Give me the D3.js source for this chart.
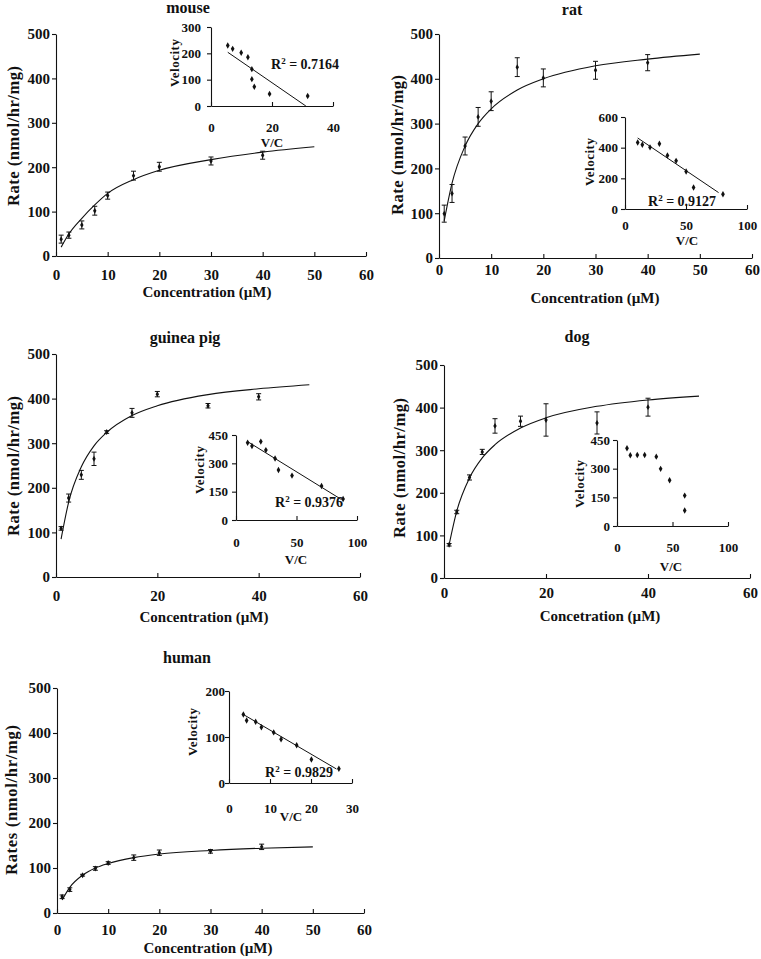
<!DOCTYPE html>
<html><head><meta charset="utf-8">
<script src="https://cdn.jsdelivr.net/npm/d3@7"></script>
<style>
body{margin:0;background:#fff;}
svg{display:block;font-family:"Liberation Serif","Times New Roman",serif;font-weight:bold;}
</style></head><body>
<svg id="chart" width="761" height="959"></svg>
<script>
// ---------- DATA ----------
const concentration = [1, 2.5, 5, 7.5, 10, 15, 20, 30, 40];
const fitConcentration = [1, 2.5, 5, 7.5, 10, 15, 20, 30, 40, 50];
const rateTicks = [0, 100, 200, 300, 400, 500];

const mouseRate = [38, 47, 70, 102, 136, 181, 201, 214, 227];
const mouseSE   = [9, 7, 9, 10, 8, 10, 10, 9, 9];
const mouseFit  = [20, 50, 85, 115, 141, 172, 193, 217, 234, 246];
const mouseVC   = [5.5, 7.1, 9.9, 12.1, 13.4, 13.4, 14.2, 19.2, 31.7];
const mouseV    = [230, 217, 202, 185, 140, 102, 73, 46, 38];
const mouseLineVC = [5.5, 31.1];
const mouseLineV  = [204, 0];

const ratRate = [99, 144, 250, 315, 350, 426, 402, 419, 436];
const ratSE   = [19, 20, 20, 21, 21, 21, 20, 20, 18];
const ratFit  = [83, 167, 250, 300, 333, 375, 400, 429, 444, 455];
const ratVC   = [10.4, 14.2, 20.5, 28.2, 34.8, 41.9, 50.1, 56.2, 80.3];
const ratV    = [434, 419, 402, 426, 349, 314, 245, 140, 96];
const ratLineVC = [10.4, 76.7];
const ratLineV  = [463, 107];

const guineaRate = [109, 177, 229, 265, 325, 368, 410, 384, 404];
const guineaSE   = [4, 9, 10, 15, 3, 10, 6, 5, 7];
const guineaFit  = [85, 168, 247, 294, 324, 362, 384, 409, 422, 431];
const guineaVC   = [9.6, 13.2, 20.5, 24.7, 32.3, 35.1, 46.3, 70.7, 88.5];
const guineaV    = [409, 392, 415, 370, 326, 265, 235, 180, 111];
const guineaLineVC = [9.6, 87];
const guineaLineV  = [415, 109];

const dogRate = [78, 155, 236, 296, 357, 368, 371, 364, 401];
const dogSE   = [3, 4, 6, 6, 17, 12, 38, 26, 21];
const dogFit  = [78, 157, 235, 282, 313, 352, 376, 403, 418, 427];
const dogVC   = [9, 12, 18.3, 24.9, 35.4, 39.3, 47.4, 61, 61];
const dogV    = [407, 370, 372, 372, 363, 299, 239, 159, 81];

const humanRate = [36, 52, 84, 99, 111, 123, 134, 137, 147];
const humanSE   = [4, 4, 2, 4, 3, 6, 6, 4, 6];
const humanFit  = [29, 57, 84, 100, 110, 123, 131, 139, 144, 147];
const humanVC   = [3.5, 4.3, 6.5, 7.9, 10.9, 12.7, 16.5, 20.1, 26.8];
const humanV    = [149, 136, 133, 121, 110, 95, 82, 51, 31];
const humanLineVC = [3.3, 26.2];
const humanLineV  = [150, 30.5];

const xTicks10 = [0, 10, 20, 30, 40, 50, 60];
const xTicks20 = [0, 20, 40, 60];

// ---------- PANELS (data refs + layout) ----------
const panels = [
  { title: "mouse", xLabel: "Concentration (\u00b5M)", yLabel: "Rate (nmol/hr/mg)",
    rate: mouseRate, se: mouseSE, fit: mouseFit, xTicks: xTicks10,
    L: { x0: 56, x1: 366, y0: 256, y1: 34, xPad: 13, titleX: 188, titleY: 13,
         xlX: 207, xlY: 297, ylX: 13, ylY: 136 },
    inset: { vc: mouseVC, v: mouseV, lineVC: mouseLineVC, lineV: mouseLineV, r2: "0.7164",
      xMax: 40, yMax: 300, xTicks: [0, 20, 40], yTicks: [0, 100, 200, 300],
      L: { x0: 211, x1: 333, y0: 106, y1: 27, xPad: 17, yGap: 10,
           vcX: 272, vcY: 147, velX: 174, velY: 63, r2X: 271, r2Y: 69 } } },
  { title: "rat", xLabel: "Concentration (\u00b5M)", yLabel: "Rate (nmol/hr/mg)",
    rate: ratRate, se: ratSE, fit: ratFit, xTicks: xTicks10,
    L: { x0: 439, x1: 752, y0: 258, y1: 34, xPad: 6, titleX: 572, titleY: 15,
         xlX: 595, xlY: 303, ylX: 397, ylY: 145 },
    inset: { vc: ratVC, v: ratV, lineVC: ratLineVC, lineV: ratLineV, r2: "0.9127",
      xMax: 100, yMax: 600, xTicks: [0, 50, 100], yTicks: [0, 200, 400, 600],
      L: { x0: 625, x1: 747, y0: 209, y1: 117, xPad: 12, yGap: 7,
           vcX: 687, vcY: 245, velX: 589, velY: 162, r2X: 648, r2Y: 206 } } },
  { title: "guinea pig", xLabel: "Concentration (\u00b5M)", yLabel: "Rate (nmol/hr/mg)",
    rate: guineaRate, se: guineaSE, fit: guineaFit, xTicks: xTicks20,
    L: { x0: 56, x1: 360, y0: 577, y1: 354, xPad: 13, titleX: 185, titleY: 343,
         xlX: 204, xlY: 622, ylX: 13, ylY: 466 },
    inset: { vc: guineaVC, v: guineaV, lineVC: guineaLineVC, lineV: guineaLineV, r2: "0.9376",
      xMax: 100, yMax: 450, xTicks: [0, 50, 100], yTicks: [0, 150, 300, 450],
      L: { x0: 236, x1: 357, y0: 520, y1: 435, xPad: 18, yGap: 8,
           vcX: 296, vcY: 564, velX: 199, velY: 470, r2X: 275, r2Y: 507 } } },
  { title: "dog", xLabel: "Concetration (\u00b5M)", yLabel: "Rate (nmol/hr/mg)",
    rate: dogRate, se: dogSE, fit: dogFit, xTicks: xTicks20,
    L: { x0: 444, x1: 750, y0: 578, y1: 365, xPad: 9, titleX: 577, titleY: 342,
         xlX: 600, xlY: 621, ylX: 399, ylY: 468 },
    inset: { vc: dogVC, v: dogV, lineVC: null, lineV: null, r2: null,
      xMax: 100, yMax: 450, xTicks: [0, 50, 100], yTicks: [0, 150, 300, 450],
      L: { x0: 617, x1: 728, y0: 526, y1: 440, xPad: 17, yGap: 7,
           vcX: 671, vcY: 571, velX: 579, velY: 484 } } },
  { title: "human", xLabel: "Concentration (\u00b5M)", yLabel: "Rates (nmol/hr/mg)",
    rate: humanRate, se: humanSE, fit: humanFit, xTicks: xTicks10,
    L: { x0: 57, x1: 364, y0: 913, y1: 688, xPad: 11, titleX: 187, titleY: 663,
         xlX: 208, xlY: 953, ylX: 11, ylY: 800 },
    inset: { vc: humanVC, v: humanV, lineVC: humanLineVC, lineV: humanLineV, r2: "0.9829",
      xMax: 30, yMax: 200, xTicks: [0, 10, 20, 30], yTicks: [0, 100, 200],
      L: { x0: 229, x1: 352, y0: 783, y1: 691, xPad: 21, yGap: 4,
           vcX: 291, vcY: 821, velX: 192, velY: 732, r2X: 265, r2Y: 777 } } }
];

const INK = "#111";
const svg = d3.select("#chart");

function styleAxis(sel, fs) {
  sel.attr("font-family", null).attr("font-size", null);
  sel.selectAll("path.domain").attr("stroke", INK).attr("stroke-width", 1.1);
  sel.selectAll(".tick line").attr("stroke", INK).attr("stroke-width", 1.1);
  sel.selectAll(".tick text").attr("fill", INK).style("font-size", fs + "px");
}

function drawPanel(p) {
  const L = p.L;
  const g = svg.append("g");
  const x = d3.scaleLinear().domain([0, 60]).range([L.x0, L.x1]);
  const y = d3.scaleLinear().domain([0, 500]).range([L.y0, L.y1]);

  g.append("g").attr("transform", `translate(0,${L.y0})`)
    .call(d3.axisBottom(x).tickValues(p.xTicks).tickSizeInner(-4).tickSizeOuter(0).tickPadding(L.xPad))
    .call(s => styleAxis(s, 15));
  g.append("g").attr("transform", `translate(${L.x0},0)`)
    .call(d3.axisLeft(y).tickValues(rateTicks).tickSizeInner(4).tickSizeOuter(0).tickPadding(2))
    .call(s => styleAxis(s, 15));

  // fitted curve
  const fitPts = fitConcentration.map((c, i) => [c, p.fit[i]]);
  g.append("path").datum(fitPts)
    .attr("fill", "none").attr("stroke", INK).attr("stroke-width", 1.1)
    .attr("d", d3.line().x(d => x(d[0])).y(d => y(d[1])).curve(d3.curveMonotoneX));

  // error bars
  const pts = concentration.map((c, i) => ({ c, r: p.rate[i], e: p.se[i] }));
  const eb = g.append("g").attr("stroke", INK).attr("stroke-width", 1);
  pts.forEach(d => {
    const xc = x(d.c), yt = y(d.r + d.e), yb = y(d.r - d.e);
    eb.append("line").attr("x1", xc).attr("x2", xc).attr("y1", yt).attr("y2", yb);
    eb.append("line").attr("x1", xc - 2.5).attr("x2", xc + 2.5).attr("y1", yt).attr("y2", yt);
    eb.append("line").attr("x1", xc - 2.5).attr("x2", xc + 2.5).attr("y1", yb).attr("y2", yb);
  });
  g.append("g").selectAll("path").data(pts).join("path")
    .attr("transform", d => `translate(${x(d.c)},${y(d.r)})`)
    .attr("d", d3.symbol(d3.symbolDiamond, 10)).attr("fill", INK);

  // labels
  g.append("text").attr("x", L.titleX).attr("y", L.titleY).attr("text-anchor", "middle")
    .style("font-size", "16px").attr("fill", INK).text(p.title);
  g.append("text").attr("x", L.xlX).attr("y", L.xlY).attr("text-anchor", "middle")
    .style("font-size", "15px").attr("fill", INK).text(p.xLabel);
  g.append("text").attr("transform", `translate(${L.ylX},${L.ylY}) rotate(-90)`)
    .attr("text-anchor", "middle").attr("dy", "0.35em")
    .attr("textLength", p.yLabel.length > 17 ? 150 : 140).attr("lengthAdjust", "spacing")
    .style("font-size", "16.5px").attr("fill", INK).text(p.yLabel);

  drawInset(p.inset);
}

function drawInset(s) {
  const L = s.L;
  const g = svg.append("g");
  const x = d3.scaleLinear().domain([0, s.xMax]).range([L.x0, L.x1]);
  const y = d3.scaleLinear().domain([0, s.yMax]).range([L.y0, L.y1]);
  g.append("g").attr("transform", `translate(0,${L.y0})`)
    .call(d3.axisBottom(x).tickValues(s.xTicks).tickSizeInner(-4).tickSizeOuter(0).tickPadding(L.xPad))
    .call(a => styleAxis(a, 13));
  g.append("g").attr("transform", `translate(${L.x0},0)`)
    .call(d3.axisLeft(y).tickValues(s.yTicks).tickSizeInner(4).tickSizeOuter(0).tickPadding(L.yGap - 4))
    .call(a => styleAxis(a, 13));

  if (s.lineVC) {
    g.append("line")
      .attr("x1", x(s.lineVC[0])).attr("y1", y(s.lineV[0]))
      .attr("x2", x(s.lineVC[1])).attr("y2", y(s.lineV[1]))
      .attr("stroke", INK).attr("stroke-width", 1);
  }
  const pts = s.vc.map((v, i) => [v, s.v[i]]);
  g.append("g").selectAll("path").data(pts).join("path")
    .attr("transform", d => `translate(${x(d[0])},${y(d[1])})`)
    .attr("d", d3.symbol(d3.symbolDiamond, 12)).attr("fill", INK);

  g.append("text").attr("x", L.vcX).attr("y", L.vcY).attr("text-anchor", "middle")
    .style("font-size", "13px").attr("fill", INK).text("V/C");
  g.append("text").attr("transform", `translate(${L.velX},${L.velY}) rotate(-90)`)
    .attr("text-anchor", "middle").attr("dy", "0.35em")
    .attr("textLength", 48).attr("lengthAdjust", "spacing")
    .style("font-size", "13px").attr("fill", INK).text("Velocity");
  if (s.r2) {
    const t = g.append("text").attr("x", L.r2X).attr("y", L.r2Y)
      .style("font-size", "14px").attr("fill", INK);
    t.append("tspan").text("R");
    t.append("tspan").attr("dy", -5).style("font-size", "9px").text("2");
    t.append("tspan").attr("dy", 5).text(" = " + s.r2);
  }
}

panels.forEach(drawPanel);
</script>
</body></html>
